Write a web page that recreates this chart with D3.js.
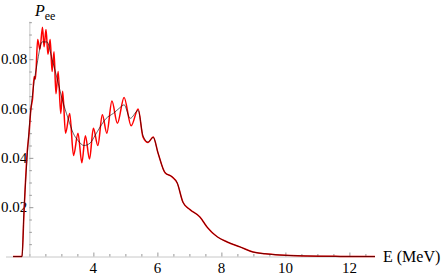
<!DOCTYPE html>
<html lang="en">
<head>
<meta charset="UTF-8">
<title>Pee</title>
<script src="https://cdn.jsdelivr.net/npm/d3@7"></script>
<style>
  html, body { margin: 0; padding: 0; background: #fff; }
  svg { display: block; }
</style>
</head>
<body>
<svg id="chart" width="443" height="277"></svg>
<script>
const serif = "'Liberation Serif', 'Times New Roman', Times, 'DejaVu Serif', 'Noto Serif', serif";

// smooth (averaged) curve, black
const energyAvg = [1.49, 1.77, 1.83, 1.93, 2.02, 2.12, 2.24, 2.40, 2.55, 2.71, 2.87, 3.02, 3.21, 3.37, 3.52, 3.71, 3.90, 4.05, 4.21, 4.40, 4.62, 4.80, 4.96, 5.15, 5.40, 5.55, 5.71, 5.87, 6.02, 6.24, 6.46, 6.62, 6.80, 7.02, 7.33, 7.55, 7.87, 8.18, 8.58, 8.99, 9.37, 9.83, 10.68, 11.71, 12.80];
const peeAvg = [0, 0, 0.018, 0.040, 0.056, 0.068, 0.078, 0.087, 0.087, 0.080, 0.072, 0.064, 0.056, 0.050, 0.047, 0.045, 0.046, 0.049, 0.0525, 0.056, 0.058, 0.060, 0.0615, 0.056, 0.0592, 0.049, 0.0464, 0.0483, 0.042, 0.034, 0.0323, 0.0298, 0.022, 0.019, 0.016, 0.012, 0.008, 0.0059, 0.0039, 0.0018, 0.0011, 0.0006, 0.0002, 0.00005, 0];

// oscillating curve, red (peaks and troughs)
const energyOsc = [1.49, 1.77, 1.83, 1.93, 1.99, 2.05, 2.10, 2.15, 2.19, 2.26, 2.33, 2.41, 2.46, 2.52, 2.58, 2.65, 2.71, 2.77, 2.83, 2.90, 2.98, 3.04, 3.13, 3.26, 3.38, 3.52, 3.64, 3.75, 3.88, 4.00, 4.14, 4.28, 4.42, 4.58, 4.75, 4.96, 5.18, 5.40, 5.55, 5.71, 5.87, 6.02, 6.24, 6.46, 6.62, 6.80, 7.02, 7.33, 7.55, 7.87, 8.18, 8.58, 8.99, 9.37, 9.83, 10.68, 11.71, 12.80];
const peeOsc = [0, 0, 0.017, 0.042, 0.050, 0.060, 0.064, 0.073, 0.072, 0.088, 0.084, 0.093, 0.085, 0.092, 0.082, 0.088, 0.075, 0.083, 0.066, 0.075, 0.058, 0.067, 0.050, 0.058, 0.041, 0.050, 0.038, 0.049, 0.0395, 0.052, 0.045, 0.0575, 0.050, 0.063, 0.054, 0.0645, 0.053, 0.0598, 0.0485, 0.0462, 0.0485, 0.042, 0.034, 0.0323, 0.0298, 0.022, 0.019, 0.016, 0.012, 0.008, 0.0059, 0.0039, 0.0018, 0.0011, 0.0006, 0.0002, 0.00005, 0];

const xMajor = [4, 6, 8, 10, 12];
const yMajor = [0.02, 0.04, 0.06, 0.08];

const svg = d3.select("#chart");

const x = d3.scaleLinear().domain([1.27, 12.8]).range([6, 375]);
const y = d3.scaleLinear().domain([0, 0.0952]).range([256.5, 21.7]);
const x0 = x(2);

// x axis
const xAxis = d3.axisBottom(x)
    .tickValues(d3.range(2, 12.6, 0.5))
    .tickSizeInner(-3).tickSizeOuter(0)
    .tickFormat("");
const gx = svg.append("g").attr("transform", `translate(0,${y(0)})`).call(xAxis);
gx.select(".domain").attr("stroke", "#c8c8c8").attr("d", `M${x.range()[0]},0.5H${x.range()[1]}`);
gx.selectAll(".tick line")
    .attr("stroke", "#999")
    .attr("y2", d => xMajor.includes(d) ? -4 : -2.5);

svg.append("g").selectAll("text")
    .data(xMajor)
    .join("text")
    .attr("x", d => x(d))
    .attr("y", 273)
    .attr("text-anchor", "middle")
    .attr("font-family", serif)
    .attr("font-size", 15)
    .text(d => d);

// y axis
const yAxis = d3.axisLeft(y)
    .tickValues(d3.range(0.005, 0.0951, 0.005))
    .tickSizeInner(-3).tickSizeOuter(0)
    .tickFormat("");
const gy = svg.append("g").attr("transform", `translate(${x0},0)`).call(yAxis);
gy.select(".domain").attr("stroke", "#c8c8c8").attr("d", `M0.5,${y.range()[0]}V${y.range()[1]}`);
gy.selectAll(".tick line")
    .attr("stroke", "#999")
    .attr("x2", d => yMajor.some(v => Math.abs(v - d) < 1e-9) ? 4 : 2.5);

svg.append("g").selectAll("text")
    .data(yMajor)
    .join("text")
    .attr("x", x0 - 2)
    .attr("y", d => y(d))
    .attr("dy", "0.35em")
    .attr("text-anchor", "end")
    .attr("font-family", serif)
    .attr("font-size", 15)
    .text(d => d.toFixed(2));

// axis titles
const yTitle = svg.append("text").attr("x", 35).attr("y", 16)
    .attr("font-family", serif).attr("font-size", 16);
yTitle.append("tspan").attr("font-style", "italic").text("P");
yTitle.append("tspan").attr("dy", 4).attr("font-size", 12).text("ee");

svg.append("text")
    .attr("x", 383)
    .attr("y", 262)
    .attr("font-family", serif)
    .attr("font-size", 16)
    .text("E (MeV)");

// curves
const line = d3.line()
    .x(d => x(d[0]))
    .y(d => y(d[1]))
    .curve(d3.curveMonotoneX);

svg.append("path")
    .datum(d3.zip(energyOsc, peeOsc))
    .attr("fill", "none")
    .attr("stroke", "#ff0000")
    .attr("stroke-width", 1.5)
    .attr("d", line);

svg.append("path")
    .datum(d3.zip(energyAvg, peeAvg))
    .attr("fill", "none")
    .attr("stroke", "#000")
    .attr("stroke-opacity", 0.75)
    .attr("stroke-width", 0.8)
    .attr("d", line);
</script>
</body>
</html>
